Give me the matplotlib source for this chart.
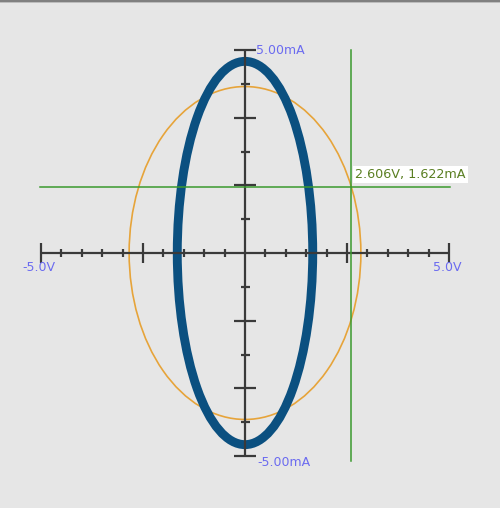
import matplotlib
matplotlib.use("Agg")
import matplotlib.pyplot as plt
import numpy as np
from matplotlib.patches import Ellipse, Rectangle

# ---- data ----
x_range = [-5.0, 5.0]            # V
y_range = [-5.0, 5.0]            # mA
x_tick_vals = [v * 0.5 for v in range(-10, 11) if v != 0]
x_major_vals = [-5.0, -2.5, 2.5, 5.0]
y_tick_vals = [k * 5.0 / 6.0 for k in range(-6, 7) if k != 0]
y_major_vals = [k * 5.0 / 6.0 for k in (-6, -4, -2, 2, 4, 6)]
x_labels = ["-5.0V", "5.0V"]
y_labels = ["5.00mA", "-5.00mA"]
trace_blue = {"amp_v": 1.66, "amp_ma": 4.72}
trace_orange = {"amp_v": 2.84, "amp_ma": 4.10}
cursor_v = 2.606
cursor_ma = 1.622
cursor_label = "2.606V, 1.622mA"

# ---- layout ----
W, H, DPI = 500, 508, 100
cx, cy = 245, 253          # pixel of origin
sx, sy = 40.8, 40.6        # px per unit

fig = plt.figure(figsize=(W / DPI, H / DPI), dpi=DPI, facecolor="#e6e6e6")
ax = fig.add_axes([0, 0, 1, 1])
ax.set_facecolor("#e6e6e6")
ax.set_xlim(-cx / sx, (W - cx) / sx)
ax.set_ylim(-(H - cy) / sy, cy / sy)
ax.axis("off")

px_x = 1.0 / sx
px_y = 1.0 / sy

# traces
ax.add_patch(Ellipse((0, 0), 2 * trace_orange["amp_v"], 2 * trace_orange["amp_ma"],
                     fill=False, ec="#e6a43a", lw=1.2, zorder=2))
ax.add_patch(Ellipse((0, 0), 2 * trace_blue["amp_v"], 2 * trace_blue["amp_ma"],
                     fill=False, ec="#0b5080", lw=6.4, zorder=3))

axis_col = "#3a3a3a"
# axes lines
ax.plot(x_range, [0, 0], color=axis_col, lw=1.6, zorder=4, solid_capstyle="butt")
ax.plot([0, 0], y_range, color=axis_col, lw=1.6, zorder=4, solid_capstyle="butt")

# x ticks
for v in x_tick_vals:
    h = 10 if v in x_major_vals else 4
    ax.plot([v, v], [-h * px_y, h * px_y], color=axis_col, lw=1.6, zorder=4,
            solid_capstyle="butt")
# y ticks
for m in y_tick_vals:
    w = 11 if any(abs(m - mm) < 1e-6 for mm in y_major_vals) else 4.5
    ax.plot([-w * px_x, w * px_x], [m, m], color=axis_col, lw=1.6, zorder=4,
            solid_capstyle="butt")

lab_col = "#6b6bf0"
fs = 9.0
ax.text(x_range[0] - 19 * px_x, -8 * px_y, x_labels[0], color=lab_col, fontsize=fs,
        ha="left", va="top", zorder=5)
ax.text(x_range[1] - 16 * px_x, -8 * px_y, x_labels[1], color=lab_col, fontsize=fs,
        ha="left", va="top", zorder=5)
ax.text(11 * px_x, y_range[1], y_labels[0], color=lab_col, fontsize=fs,
        ha="left", va="center", zorder=5)
ax.text(12 * px_x, y_range[0] - 6 * px_y, y_labels[1], color=lab_col, fontsize=fs,
        ha="left", va="center", zorder=5)

# cursors
green = "#3a9a2e"
ax.plot([cursor_v, cursor_v], [y_range[1], y_range[0] - 5 * px_y], color=green, lw=1.1, zorder=6)
ax.plot([x_range[0] - px_x, x_range[1] + px_x], [cursor_ma, cursor_ma], color=green, lw=1.1, zorder=6)
ax.text(cursor_v + 4 * px_x, cursor_ma + 13 * px_y, cursor_label, color="#5a7f22",
        fontsize=9.2, ha="left", va="center", zorder=7,
        bbox=dict(boxstyle="square,pad=0.15", fc="white", ec="none"))

# top border
fig.add_artist(Rectangle((0, 1 - 2 / H), 1, 2 / H, transform=fig.transFigure,
                         fc="#808080", ec="none"))
fig.add_artist(Rectangle((0, 1 - 3 / H), 1, 1 / H, transform=fig.transFigure,
                         fc="#bdbdbd", ec="none"))

fig.savefig("out.png", dpi=DPI, facecolor=fig.get_facecolor())
